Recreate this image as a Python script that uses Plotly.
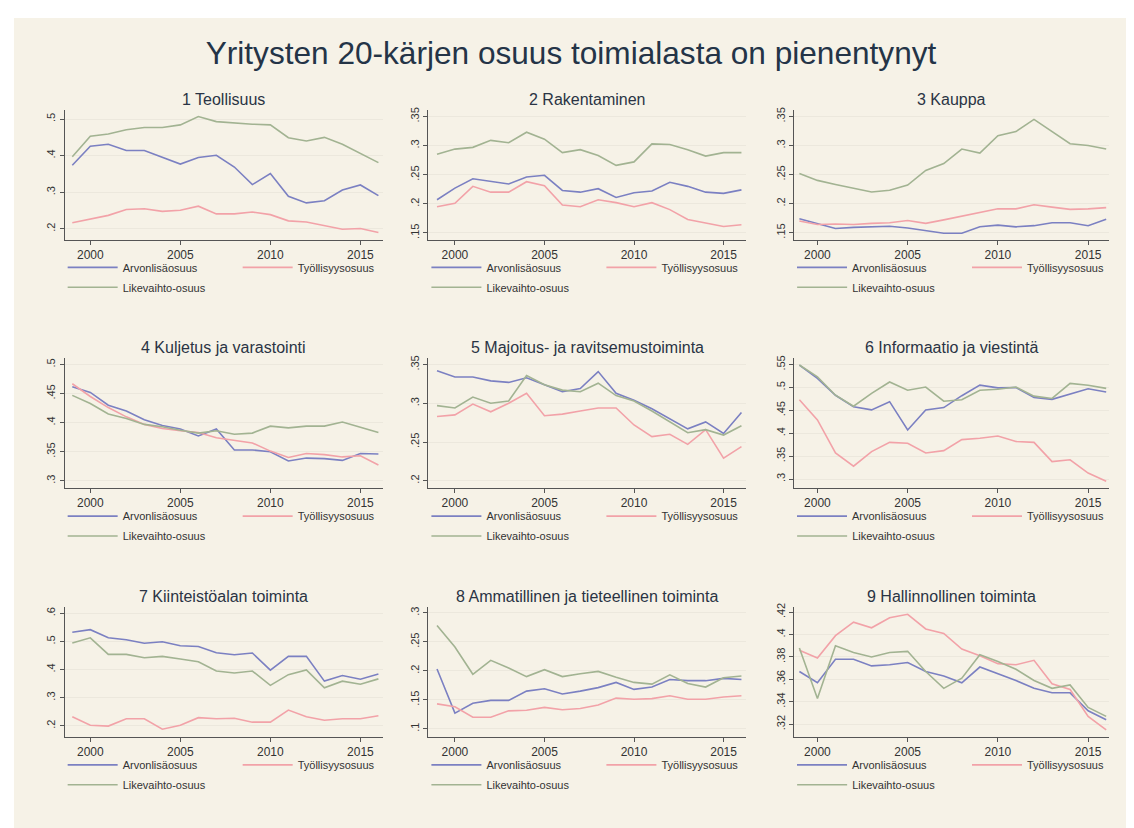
import plotly.graph_objects as go

W, H = 1134, 828

# ---------------- data ----------------
years = [1999, 2000, 2001, 2002, 2003, 2004, 2005, 2006, 2007, 2008,
         2009, 2010, 2011, 2012, 2013, 2014, 2015, 2016]

main_title = "Yritysten 20-kärjen osuus toimialasta on pienentynyt"
panel_titles = ["1 Teollisuus", "2 Rakentaminen", "3 Kauppa",
                "4 Kuljetus ja varastointi", "5 Majoitus- ja ravitsemustoiminta",
                "6 Informaatio ja viestintä", "7 Kiinteistöalan toiminta",
                "8 Ammatillinen ja tieteellinen toiminta", "9 Hallinnollinen toiminta"]
series_names = ["Arvonlisäosuus", "Työllisyysosuus", "Likevaihto-osuus"]

arvo1 = [.374, .426, .431, .414, .414, .395, .377, .395, .401, .369, .321, .351, .289, .271, .277, .306, .320, .291]
tyo1 = [.217, .228, .237, .253, .255, .248, .251, .262, .241, .241, .246, .239, .222, .219, .208, .199, .201, .190]
lik1 = [.397, .453, .459, .471, .477, .477, .484, .507, .493, .489, .486, .484, .449, .440, .450, .431, .405, .381]

arvo2 = [.207, .227, .243, .238, .234, .246, .249, .223, .220, .226, .211, .219, .222, .237, .230, .220, .218, .224]
tyo2 = [.195, .201, .230, .220, .220, .238, .231, .198, .195, .207, .202, .195, .202, .190, .173, .167, .161, .164]
lik2 = [.285, .294, .297, .309, .305, .323, .311, .288, .293, .283, .266, .272, .303, .302, .293, .282, .288, .288]

arvo3 = [.174, .166, .157, .159, .160, .161, .158, .153, .149, .149, .160, .163, .160, .162, .167, .167, .162, .173]
tyo3 = [.170, .164, .165, .164, .166, .167, .171, .166, .172, .178, .184, .191, .191, .198, .194, .190, .191, .193]
lik3 = [.252, .240, .233, .227, .220, .223, .232, .257, .269, .294, .287, .317, .324, .345, .324, .303, .300, .294]

arvo4 = [.462, .452, .430, .420, .405, .395, .389, .377, .389, .353, .353, .350, .334, .339, .338, .335, .347, .346]
tyo4 = [.467, .445, .426, .410, .397, .390, .386, .383, .374, .369, .365, .351, .340, .347, .345, .341, .343, .327]
lik4 = [.447, .433, .415, .407, .397, .393, .387, .382, .386, .380, .382, .394, .391, .394, .394, .401, .392, .383]

arvo5 = [.342, .334, .334, .329, .327, .333, .324, .315, .319, .341, .313, .304, .293, .280, .267, .276, .261, .288]
tyo5 = [.283, .285, .299, .289, .300, .313, .284, .286, .290, .294, .294, .272, .257, .260, .247, .266, .229, .244]
lik5 = [.297, .294, .308, .300, .303, .336, .324, .317, .315, .326, .310, .303, .290, .276, .262, .266, .259, .271]

arvo6 = [.549, .520, .483, .458, .451, .469, .407, .451, .456, .482, .505, .499, .500, .478, .474, .486, .497, .490]
tyo6 = [.473, .429, .357, .328, .360, .380, .378, .357, .362, .386, .389, .394, .382, .380, .338, .342, .313, .295]
lik6 = [.549, .523, .483, .459, .487, .512, .494, .501, .470, .473, .494, .496, .501, .481, .476, .509, .505, .498]

arvo7 = [.533, .542, .513, .506, .494, .499, .485, .482, .460, .453, .459, .398, .447, .447, .359, .379, .366, .384]
tyo7 = [.232, .202, .199, .225, .225, .188, .202, .229, .225, .227, .213, .213, .256, .232, .220, .225, .225, .236]
lik7 = [.495, .513, .454, .454, .442, .447, .438, .428, .395, .388, .395, .344, .382, .399, .335, .359, .348, .367]

arvo8 = [.203, .127, .144, .149, .149, .165, .169, .160, .165, .171, .180, .168, .172, .185, .183, .183, .187, .185]
tyo8 = [.143, .138, .120, .120, .131, .132, .137, .133, .135, .141, .153, .151, .152, .157, .151, .151, .155, .157]
lik8 = [.278, .241, .194, .218, .205, .190, .202, .190, .195, .199, .189, .180, .177, .193, .178, .172, .188, .191]

arvo9 = [.367, .357, .378, .378, .372, .373, .375, .367, .363, .357, .371, .365, .359, .352, .348, .348, .332, .324]
tyo9 = [.386, .379, .399, .411, .406, .415, .418, .405, .401, .387, .381, .374, .373, .377, .356, .351, .327, .315]
lik9 = [.388, .343, .390, .384, .380, .384, .385, .367, .352, .361, .382, .376, .369, .359, .352, .355, .335, .327]

arvo = [arvo1, arvo2, arvo3, arvo4, arvo5, arvo6, arvo7, arvo8, arvo9]
tyo = [tyo1, tyo2, tyo3, tyo4, tyo5, tyo6, tyo7, tyo8, tyo9]
lik = [lik1, lik2, lik3, lik4, lik5, lik6, lik7, lik8, lik9]

x_ticks = [2000, 2005, 2010, 2015]
y_ticks = [
    [.2, .3, .4, .5],
    [.15, .2, .25, .3, .35],
    [.15, .2, .25, .3, .35],
    [.3, .35, .4, .45, .5],
    [.2, .25, .3, .35],
    [.3, .35, .4, .45, .5, .55],
    [.2, .3, .4, .5, .6],
    [.1, .15, .2, .25, .3],
    [.32, .34, .36, .38, .4, .42],
]

# ---------------- layout / style ----------------
y_ranges = [(.170, .526), (.138, .362), (.1375, .362),
            (.2875, .5113), (.1906, .3585), (.2804, .5643),
            (.161, .6234), (.0863, .3103), (.3088, .4247)]
col_px = [(57, 377), (423, 743), (791, 1108)]
x_ranges = [(1998.575, 2016.237), (1998.518, 2016.277), (1998.708, 2016.165)]
row_px = [(98, 229), (347.7, 478.3), (597.7, 728.3)]
title_py = [88, 337, 587]
legend_py = [242, 492, 742]

BG = "#f6f2e7"
BLUE = "#7b80c2"
PINK = "#f2a2a8"
GREEN = "#a2b392"
FONT = "Liberation Sans, Arial, sans-serif"
TXT = "#333333"
colors = [BLUE, PINK, GREEN]


def lab(v):
    s = f"{v:g}"
    return s[1:] if s.startswith("0") else s


fig = go.Figure()
annotations = []
layout = dict()

for i in range(9):
    r, c = divmod(i, 3)
    sfx = "" if i == 0 else str(i + 1)
    legA = "legend" if i == 0 else f"legend{2 * i + 1}"
    legB = f"legend{2 * i + 2}"
    data = [arvo[i], tyo[i], lik[i]]
    legs = [legA, legA, legB]
    for k in range(3):
        fig.add_trace(go.Scatter(
            x=years, y=data[k], mode="lines", name=series_names[k],
            line=dict(color=colors[k], width=1.6),
            xaxis="x" + sfx, yaxis="y" + sfx, legend=legs[k],
            showlegend=True, hoverinfo="x+y+name"))

    l, rr = col_px[c]
    t, b = row_px[r]
    layout["xaxis" + sfx] = dict(
        domain=[l / W, rr / W], range=list(x_ranges[c]), anchor="y" + sfx,
        tickvals=x_ticks, ticks="outside", ticklen=4, tickcolor="#555",
        showline=True, linecolor="#555", linewidth=1, showgrid=False,
        zeroline=False, tickfont=dict(size=12, color=TXT, family=FONT))
    layout["yaxis" + sfx] = dict(
        domain=[1 - b / H, 1 - t / H], range=list(y_ranges[i]), anchor="x" + sfx,
        tickvals=y_ticks[i], ticktext=[lab(v) for v in y_ticks[i]],
        tickangle=-90, ticks="outside", ticklen=4, tickcolor="#555",
        showline=True, linecolor="#555", linewidth=1, showgrid=True,
        gridcolor="#ece8dd", gridwidth=1, zeroline=False,
        tickfont=dict(size=11, color=TXT, family=FONT))

    legend_common = dict(
        xanchor="left", yanchor="top", orientation="h", itemwidth=50,
        entrywidth=110, entrywidthmode="pixels", bgcolor="rgba(0,0,0,0)",
        font=dict(size=11, color=TXT, family=FONT), itemclick=False,
        itemdoubleclick=False)
    ly = legend_py[r]
    layout[legA] = dict(x=(l - 2) / W, y=1 - ly / H, **legend_common)
    layout[legB] = dict(x=(l - 2) / W, y=1 - (ly + 20) / H, **legend_common)

    annotations.append(dict(
        text=panel_titles[i], x=(l + rr) / 2 / W, y=1 - title_py[r] / H,
        xref="paper", yref="paper", xanchor="center", yanchor="middle",
        showarrow=False, font=dict(size=16, color="#2a3444", family=FONT)))

fig.update_layout(
    width=W, height=H,
    margin=dict(l=0, r=0, t=0, b=0),
    paper_bgcolor="white", plot_bgcolor=BG,
    font=dict(family=FONT, color=TXT),
    title=dict(text=main_title, x=563 / W, y=1 - 45 / H, xanchor="center",
               yanchor="middle", font=dict(size=31.6, color="#243447", family=FONT)),
    annotations=annotations,
    shapes=[dict(type="rect", xref="paper", yref="paper", x0=6 / W, x1=1,
                 y0=0, y1=1 - 6 / H, fillcolor=BG, line=dict(width=0),
                 layer="below")],
    **layout)

fig.write_html("out.html")
